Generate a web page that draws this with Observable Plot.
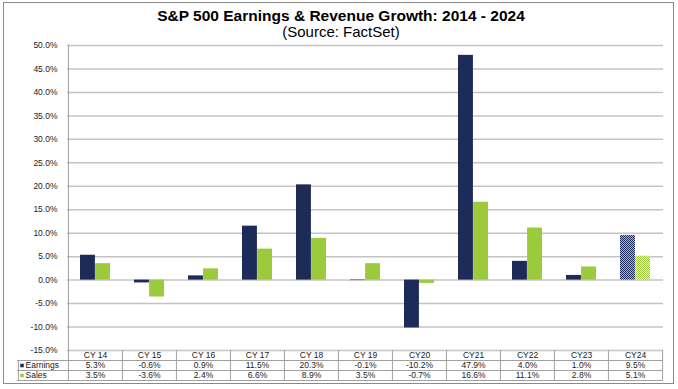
<!DOCTYPE html>
<html><head><meta charset="utf-8">
<script src="https://cdn.jsdelivr.net/npm/d3@7"></script>
<script src="https://cdn.jsdelivr.net/npm/@observablehq/plot@0.6"></script>
<style>
body{margin:0;background:#fff;font-family:"Liberation Sans",Arial,sans-serif;}
#frame{position:absolute;left:3px;top:2px;width:671px;height:382px;border:1px solid #8a8a8a;box-sizing:border-box;}
#title{position:absolute;left:0;top:7px;width:682px;text-align:center;font-weight:bold;font-size:15.5px;color:#000;line-height:18px;}
#sub{position:absolute;left:0;top:23px;width:682px;text-align:center;font-size:15px;color:#000;line-height:18px;}
#chart{position:absolute;left:0;top:40px;}
</style></head><body>
<div id="frame"></div>
<div id="title">S&amp;P 500 Earnings &amp; Revenue Growth: 2014 - 2024</div>
<div id="sub">(Source: FactSet)</div>
<div id="chart"></div>
<script>
const years = ["CY 14","CY 15","CY 16","CY 17","CY 18","CY 19","CY20","CY21","CY22","CY23","CY24"];
const earnings = [5.3, -0.6, 0.9, 11.5, 20.3, -0.1, -10.2, 47.9, 4.0, 1.0, 9.5];
const sales = [3.5, -3.6, 2.4, 6.6, 8.9, 3.5, -0.7, 16.6, 11.1, 2.8, 5.1];
const yTicks = [-15, -10, -5, 0, 5, 10, 15, 20, 25, 30, 35, 40, 45, 50];
const seriesNames = ["Earnings", "Sales"];
const estimateCount = 1;

const navy = "#1c2b58", green = "#9bcb3c", grid = "#c4c4c4", lineC = "#a0a0a0";
const W = 678, ML = 67, MR = 15, MT = 5, MB = 35, H = 345;
const bw = (W - ML - MR) / years.length;
const rows = years.map((c, i) => ({cat: c, earnings: earnings[i], sales: sales[i]}));
const actual = rows.slice(0, rows.length - estimateCount);
const est = rows.slice(rows.length - estimateCount);
const fmt = v => v.toFixed(1) + "%";
const base = () => -15;

const marks = [
  Plot.ruleY(yTicks, {stroke: grid, strokeWidth: 1.5}),
  Plot.barY(actual, {x: "cat", y: "earnings", fill: navy, insetLeft: 12, insetRight: bw / 2}),
  Plot.barY(actual, {x: "cat", y: "sales", fill: green, insetLeft: bw / 2, insetRight: 12}),
  Plot.barY(est, {x: "cat", y: "earnings", fill: "url(#hatchE)", insetLeft: 12, insetRight: bw / 2}),
  Plot.barY(est, {x: "cat", y: "sales", fill: "url(#hatchS)", insetLeft: bw / 2, insetRight: 12}),
  Plot.ruleX([years[0]], {x: d => d, y1: () => 50, y2: base, dx: -bw / 2, insetBottom: -30, stroke: lineC}),
  Plot.ruleX(years.slice(1), {x: d => d, y1: base, y2: base, dx: -bw / 2, insetBottom: -30, stroke: lineC}),
  Plot.ruleX([years[years.length - 1]], {x: d => d, y1: base, y2: base, dx: bw / 2, insetBottom: -30, stroke: lineC}),
  Plot.ruleX([years[0]], {x: d => d, y1: base, y2: base, dx: -bw / 2 - 50, insetTop: 10, insetBottom: -30, stroke: lineC}),
  Plot.ruleY([-15], {dy: 10, insetLeft: -50, stroke: lineC}),
  Plot.ruleY([-15], {dy: 20, insetLeft: -50, stroke: lineC}),
  Plot.ruleY([-15], {dy: 30, insetLeft: -50, stroke: lineC}),
  Plot.text(rows, {x: "cat", y: base, text: "cat", dy: 5}),
  Plot.text(rows, {x: "cat", y: base, text: d => fmt(d.earnings), dy: 15}),
  Plot.text(rows, {x: "cat", y: base, text: d => fmt(d.sales), dy: 25}),
  Plot.text([seriesNames[0]], {frameAnchor: "left", y: base, dy: 15, dx: -42, textAnchor: "start", text: d => d}),
  Plot.text([seriesNames[1]], {frameAnchor: "left", y: base, dy: 25, dx: -42, textAnchor: "start", text: d => d}),
  Plot.dot([seriesNames[0]], {frameAnchor: "left", y: base, dy: 15, dx: -45.5, symbol: "square", r: 2, fill: navy}),
  Plot.dot([seriesNames[1]], {frameAnchor: "left", y: base, dy: 25, dx: -45.5, symbol: "square", r: 2, fill: green})
];

const chart = Plot.plot({
  width: W, height: H,
  marginLeft: ML, marginRight: MR, marginTop: MT, marginBottom: MB,
  style: {fontFamily: "'Liberation Sans', Arial, sans-serif", fontSize: "8.5px", color: "#222", background: "transparent"},
  x: {type: "band", domain: years, padding: 0, axis: null},
  y: {domain: [-15, 50], ticks: yTicks, tickFormat: fmt, tickSize: 0, tickPadding: 10, label: null},
  marks
});

const ns = "http://www.w3.org/2000/svg";
const defs = document.createElementNS(ns, "defs");
function pat(id, c1, c2) {
  const p = document.createElementNS(ns, "pattern");
  p.setAttribute("id", id); p.setAttribute("width", 2); p.setAttribute("height", 2);
  p.setAttribute("patternUnits", "userSpaceOnUse");
  const r0 = document.createElementNS(ns, "rect");
  r0.setAttribute("width", 2); r0.setAttribute("height", 2); r0.setAttribute("fill", c2);
  p.appendChild(r0);
  for (const [x, y] of [[0, 0], [1, 1]]) {
    const r = document.createElementNS(ns, "rect");
    r.setAttribute("x", x); r.setAttribute("y", y); r.setAttribute("width", 1); r.setAttribute("height", 1);
    r.setAttribute("fill", c1);
    p.appendChild(r);
  }
  defs.appendChild(p);
}
pat("hatchE", navy, "#aab3cc");
pat("hatchS", green, "#eef7dc");
chart.insertBefore(defs, chart.firstChild);
document.getElementById("chart").appendChild(chart);
</script>
</body></html>
